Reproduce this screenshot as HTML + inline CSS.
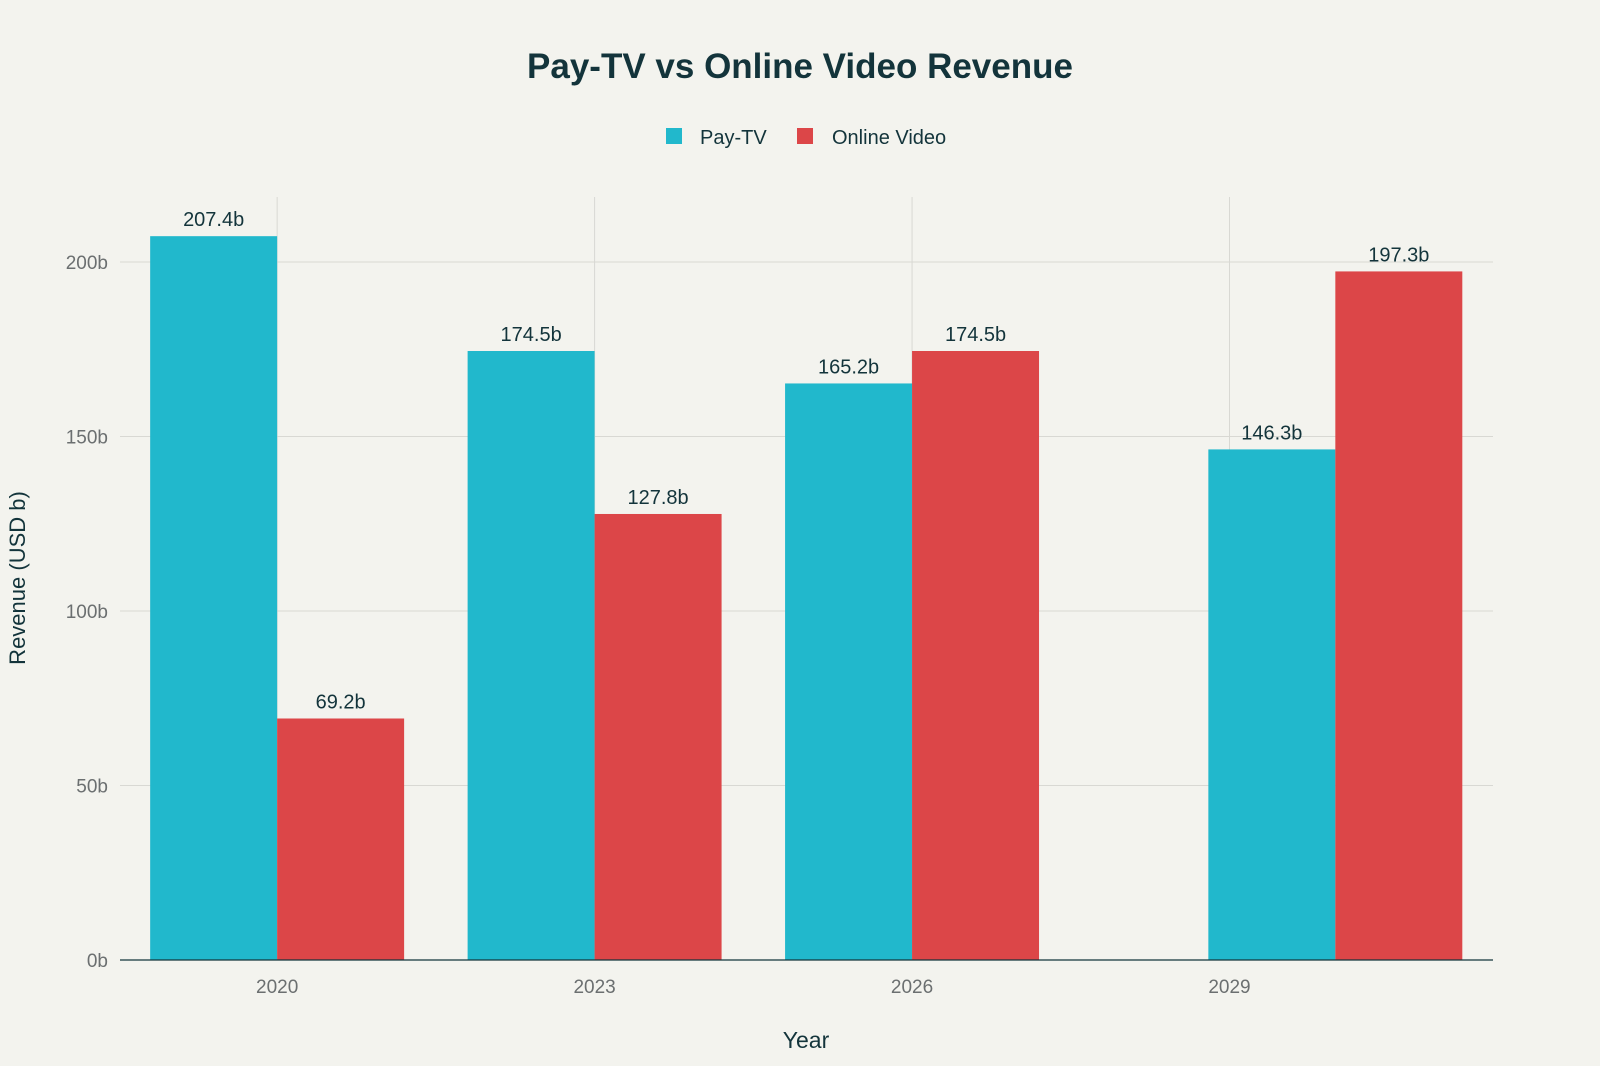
<!DOCTYPE html>
<html><head><meta charset="utf-8"><style>
html,body{margin:0;padding:0;background:#f3f3ee;}
svg{display:block;font-family:"Liberation Sans",sans-serif;}
</style></head><body>
<svg id="chart" width="1600" height="1066" viewBox="0 0 1600 1066">
<rect width="1600" height="1066" fill="#f3f3ee"/>
<text x="800" y="78" text-anchor="middle" font-size="35" font-weight="bold" fill="#13343b">Pay-TV vs Online Video Revenue</text>
<g>
<g><rect x="666" y="128" width="16" height="16" fill="#21b8cc"/><text x="700" y="144" font-size="20" fill="#13343b">Pay-TV</text></g>
<g><rect x="797" y="128" width="16" height="16" fill="#dc4648"/><text x="832" y="144" font-size="20" fill="#13343b">Online Video</text></g>
</g>
<g id="grid"></g><g id="bars"></g><g id="labels"></g>
<text x="806" y="1048" text-anchor="middle" font-size="23" fill="#13343b">Year</text>
<text transform="translate(25,578) rotate(-90)" text-anchor="middle" font-size="22" fill="#13343b">Revenue (USD b)</text>
</svg>
<script>
const years = [2020, 2023, 2026, 2030];
const payTV = [207.4, 174.5, 165.2, 146.3];
const onlineVideo = [69.2, 127.8, 174.5, 197.3];
const xTicks = [2020, 2023, 2026, 2029];
const yTicks = [0, 50, 100, 150, 200];
const ns = "http://www.w3.org/2000/svg";
const L = 120, R = 1493, T = 197, B = 960;
const x = v => L + (v - 2018.515) / (2031.49 - 2018.515) * (R - L);
const y = v => B - v / 200 * (B - 262);
const bw = x(2021.2) - x(2020);
function mk(tag, attrs, parent, txt) {
  const e = document.createElementNS(ns, tag);
  for (const k in attrs) e.setAttribute(k, attrs[k]);
  if (txt !== undefined) e.textContent = txt;
  document.getElementById(parent).appendChild(e);
  return e;
}
yTicks.forEach(t => {
  if (t > 0) {
    const g = mk("line", {x1: L, x2: R, y1: y(t), y2: y(t), stroke: "#d8d8d3", "stroke-width": 1}, "grid");
    
    
  }
  const tl = mk("text", {x: L - 12, y: y(t) + 7, "text-anchor": "end", "font-size": 19, fill: "#6b6f70"}, "grid", t + "b");
  
  
});
xTicks.forEach(yr => {
  const g = mk("line", {x1: x(yr), x2: x(yr), y1: T, y2: B, stroke: "#d8d8d3", "stroke-width": 1}, "grid");
  
  
  const tl = mk("text", {x: x(yr), y: B + 33, "text-anchor": "middle", "font-size": 19, fill: "#6b6f70"}, "grid", String(yr));
  
  
});
years.forEach((yr, i) => {
  const b1 = mk("rect", {x: x(yr) - bw, y: y(payTV[i]), width: bw, height: B - y(payTV[i]), fill: "#21b8cc"}, "bars");
  
  
  const b2 = mk("rect", {x: x(yr), y: y(onlineVideo[i]), width: bw, height: B - y(onlineVideo[i]), fill: "#dc4648"}, "bars");
  
  
  const l1 = mk("text", {x: x(yr) - bw / 2, y: y(payTV[i]) - 10, "text-anchor": "middle", "font-size": 20, fill: "#13343b"}, "labels", payTV[i].toFixed(1) + "b");
  
  
  const l2 = mk("text", {x: x(yr) + bw / 2, y: y(onlineVideo[i]) - 10, "text-anchor": "middle", "font-size": 20, fill: "#13343b"}, "labels", onlineVideo[i].toFixed(1) + "b");
  
  
});
const ax = mk("line", {x1: L, x2: R, y1: B, y2: B, stroke: "#13343b", "stroke-width": 1.2}, "labels");


</script>
</body></html>
